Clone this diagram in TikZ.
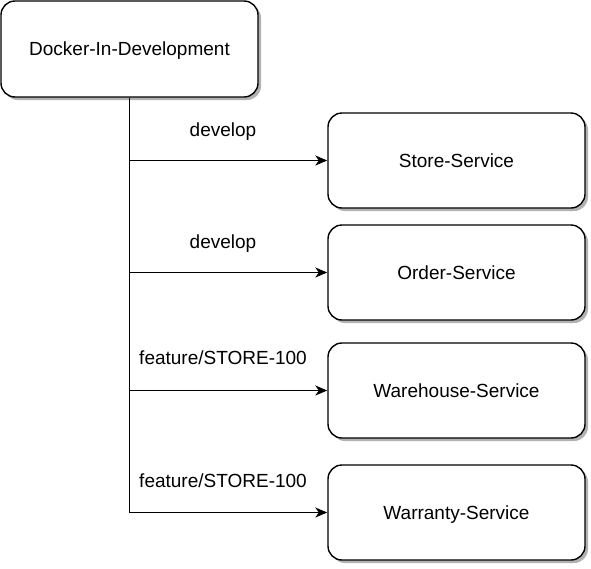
\documentclass[tikz,border=0pt]{standalone}
\usepackage{fontspec}
\setmainfont{Liberation Sans}
\usetikzlibrary{arrows.meta,shadows}
\begin{document}
\begin{tikzpicture}[x=1pt,y=-1pt,
  box/.style={draw=black,line width=1.4pt,fill=white,rounded corners=14pt,
    minimum width=257pt,minimum height=95pt,inner sep=0pt,
    font=\fontsize{19}{22}\selectfont,text height=13.6pt,text depth=0pt,
    drop shadow={shadow xshift=3pt,shadow yshift=-3pt,fill=black,opacity=0.3}},
  conn/.style={line width=1.4pt,draw=black},
  arr/.style={conn,-{Stealth[length=12pt,width=10pt,inset=3.5pt]}},
  lbl/.style={font=\fontsize{19}{22}\selectfont,inner sep=0pt,text height=13.6pt,text depth=0pt}]
\useasboundingbox (0,0) rectangle (591,568);
\node[box,minimum height=96pt] (dock) at (129.5,49) {Docker-In-Development};
\node[box] (store) at (456.5,160.5) {Store-Service};
\node[box] (order) at (456.5,272.5) {Order-Service};
\node[box] (ware) at (456.5,390.5) {Warehouse-Service};
\node[box] (warr) at (456.5,512.5) {Warranty-Service};
\draw[conn] (dock.south) -- (dock.south |- warr.west);
\draw[arr] (dock.south |- store.west) -- (store.west);
\draw[arr] (dock.south |- order.west) -- (order.west);
\draw[arr] (dock.south |- ware.west) -- (ware.west);
\draw[arr] (dock.south |- warr.west) -- (warr.west);
\node[lbl] (l1) at (223,130) {develop};
\node[lbl] (l2) at (223,242) {develop};
\node[lbl] (l3) at (223,358) {feature/STORE-100};
\node[lbl] (l4) at (223,481) {feature/STORE-100};
\end{tikzpicture}
\end{document}
